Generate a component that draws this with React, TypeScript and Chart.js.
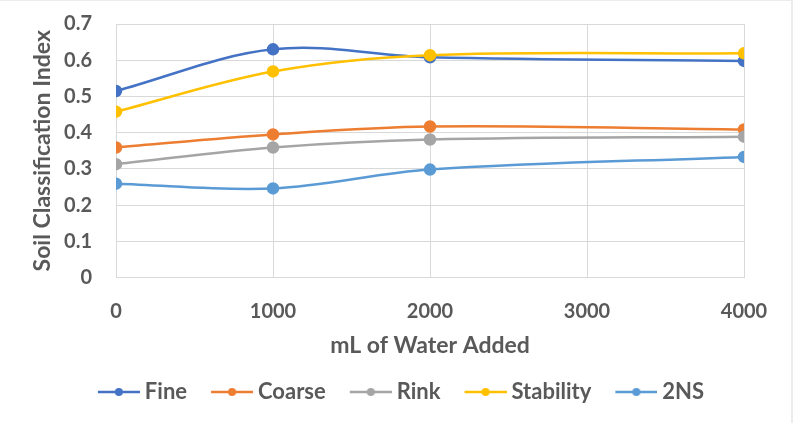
import React, { useEffect, useRef } from "react";
import { Chart, registerables } from "chart.js";

Chart.register(...registerables);

const xValues = [0, 1000, 2000, 4000];
const seriesNames = ["Fine", "Coarse", "Rink", "Stability", "2NS"];
const fineValues = [0.515, 0.63, 0.608, 0.598];
const coarseValues = [0.359, 0.395, 0.417, 0.409];
const rinkValues = [0.313, 0.359, 0.381, 0.389];
const stabilityValues = [0.458, 0.569, 0.614, 0.619];
const twoNSValues = [0.259, 0.246, 0.298, 0.333];
const seriesColors = ["#4472C4", "#ED7D31", "#A5A5A5", "#FFC000", "#5B9BD5"];
const xTickValues = [0, 1000, 2000, 3000, 4000];
const yTickValues = [0, 0.1, 0.2, 0.3, 0.4, 0.5, 0.6, 0.7];
const xTitle = "mL of Water Added";
const yTitle = "Soil Classification Index";

const FONT = "Lato, 'Open Sans', sans-serif";
const TEXT = "#595959";
const GRID = "#d9d9d9";

function legendImage(color: string): HTMLCanvasElement {
  const c = document.createElement("canvas");
  c.width = 48;
  c.height = 12;
  const g = c.getContext("2d")!;
  g.strokeStyle = color;
  g.lineWidth = 2.5;
  g.beginPath();
  g.moveTo(6, 6);
  g.lineTo(48, 6);
  g.stroke();
  g.fillStyle = color;
  g.beginPath();
  g.arc(27, 6, 4, 0, Math.PI * 2);
  g.fill();
  return c;
}

const legendShift = {
  id: "legendShift",
  afterLayout(chart: any) {
    const lg = chart.legend;
    if (lg) {
      lg.left += 19;
      lg.right += 19;
    }
  },
};

export default function App() {
  const ref = useRef<HTMLCanvasElement | null>(null);
  useEffect(() => {
    if (!ref.current) return;
    const all = [fineValues, coarseValues, rinkValues, stabilityValues, twoNSValues];
    const images = seriesColors.map(legendImage);
    const chart = new Chart(ref.current, {
      type: "line",
      plugins: [legendShift],
      data: {
        datasets: all.map((vals, i) => ({
          label: seriesNames[i],
          data: vals.map((v, j) => ({ x: xValues[j], y: v })),
          borderColor: seriesColors[i],
          backgroundColor: seriesColors[i],
          pointBackgroundColor: seriesColors[i],
          pointBorderColor: seriesColors[i],
          pointRadius: 5,
          borderWidth: 2.5,
          tension: 0.35,
          fill: false,
          order: all.length - i,
        })),
      },
      options: {
        responsive: false,
        animation: false,
        layout: { padding: { left: 20, right: 54, top: 24, bottom: 10 } },
        plugins: {
          tooltip: { enabled: false },
          legend: {
            position: "bottom",
            labels: {
              usePointStyle: true,
              pointStyleWidth: 36,
              padding: 24,
              color: TEXT,
              font: { family: FONT, size: 22, weight: "bold" },
              generateLabels: (ch: any) =>
                ch.data.datasets.map((ds: any, i: number) => ({
                  text: ds.label,
                  pointStyle: images[i],
                  fillStyle: seriesColors[i],
                  strokeStyle: seriesColors[i],
                  lineWidth: 0,
                  hidden: false,
                  datasetIndex: i,
                  fontColor: TEXT,
                })),
            },
          },
        },
        scales: {
          x: {
            type: "linear",
            min: 0,
            max: 4000,
            afterBuildTicks: (s: any) => {
              s.ticks = xTickValues.map((v) => ({ value: v }));
            },
            grid: { color: GRID, drawTicks: false },
            border: { display: false },
            ticks: {
              color: TEXT,
              padding: 26,
              font: { family: FONT, size: 20, weight: "bold", lineHeight: 0.85 },
              maxRotation: 0,
              callback: (v: any) => String(v),
            },
            title: {
              display: true,
              text: xTitle,
              color: TEXT,
              padding: { top: -2, bottom: 10.5 },
              font: { family: FONT, size: 23, weight: "bold", lineHeight: "2px" },
            },
          },
          y: {
            min: 0,
            max: 0.7,
            afterBuildTicks: (s: any) => {
              s.ticks = yTickValues.map((v) => ({ value: v }));
            },
            afterFit: (s: any) => {
              s.width = 96;
              s.paddingTop = 0;
              s.paddingBottom = 0;
            },
            grid: { color: GRID, drawTicks: false },
            border: { display: false },
            ticks: {
              color: TEXT,
              padding: 24,
              font: { family: FONT, size: 20, weight: "bold" },
              callback: (v: any) => (v === 0 ? "0" : Number(v).toFixed(1)),
            },
            title: {
              display: true,
              text: yTitle,
              color: TEXT,
              padding: { top: 11, bottom: 0 },
              font: { family: FONT, size: 23, weight: "bold", lineHeight: 1.0 },
            },
          },
        },
      },
    });
    return () => chart.destroy();
  }, []);
  return (
    <div style={{ position: "absolute", left: 0, top: 0, width: 798, height: 423, background: "#fff" }}>
      <canvas ref={ref} width={798} height={423} style={{ display: "block" }} />
      <div
        style={{
          position: "absolute",
          left: 0,
          top: 0,
          width: 791,
          height: 423,
          borderTop: "1px solid #ececec",
          borderRight: "2px solid #ececec",
          pointerEvents: "none",
        }}
      />
    </div>
  );
}
